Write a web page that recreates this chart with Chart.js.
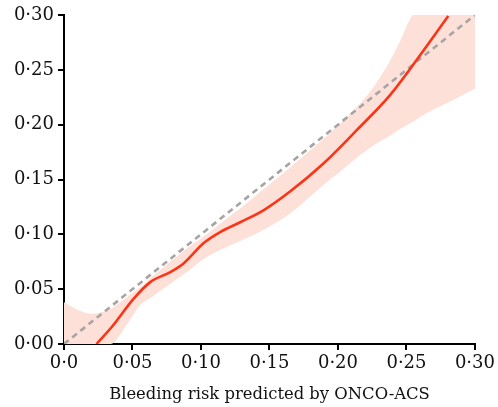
<!DOCTYPE html>
<html>
<head>
<meta charset="utf-8">
<title>Calibration – ONCO-ACS bleeding risk</title>
<script src="https://cdn.jsdelivr.net/npm/chart.js@4.4.0/dist/chart.umd.min.js"></script>
<style>
  html, body { margin: 0; padding: 0; background: #fff; }
  #wrap { width: 498px; height: 407px; }
</style>
</head>
<body>
<div id="wrap"><canvas id="calib" width="498" height="407"></canvas></div>
<script>
// Smoothed observed vs predicted bleeding risk
const curveX = [0.0237, 0.035, 0.0509, 0.063, 0.0776, 0.0873, 0.102, 0.114, 0.1286, 0.1456, 0.165, 0.1894, 0.2137, 0.238, 0.2574, 0.2805];
const curveY = [0.0, 0.0157, 0.0413, 0.0564, 0.0656, 0.0735, 0.092, 0.102, 0.111, 0.1219, 0.139, 0.1646, 0.195, 0.227, 0.2589, 0.299];

// 95% confidence band
const bandX = [0, 0.01, 0.019, 0.027, 0.034, 0.046, 0.056, 0.063, 0.0776, 0.0898, 0.104, 0.1214, 0.1286, 0.1456, 0.165, 0.1894, 0.2015, 0.216, 0.227, 0.238, 0.2453, 0.2545, 0.262, 0.2866, 0.30];
const bandUpper = [0.038, 0.031, 0.0276, 0.029, 0.032, 0.0427, 0.0519, 0.060, 0.075, 0.087, 0.100, 0.117, 0.1235, 0.141, 0.161, 0.187, 0.201, 0.219, 0.236, 0.258, 0.276, 0.30, 0.30, 0.30, 0.30];
const bandLower = [0, 0, 0, 0, 0, 0.018, 0.036, 0.042, 0.055, 0.0656, 0.079, 0.090, 0.094, 0.104, 0.119, 0.145, 0.157, 0.172, 0.182, 0.190, 0.196, 0.2025, 0.2087, 0.224, 0.233];

// perfect calibration reference
const idealX = [0, 0.30];
const idealY = [0, 0.30];

const axisTicks = [0, 0.05, 0.10, 0.15, 0.20, 0.25, 0.30];

const toPoints = (xs, ys) => xs.map((x, i) => ({ x: x, y: ys[i] }));

// decimal point drawn as a middle dot
function fmtY(v) {
    return v.toFixed(2).replace('.', '·');
}
function fmtX(v) {
    if (Math.abs(v) < 1e-9) return '0·0';
    return v.toFixed(2).replace('.', '·');
}

Chart.defaults.font.family = "'DejaVu Serif', serif";
Chart.defaults.font.size = 18;
Chart.defaults.color = '#111';

const ctx = document.getElementById('calib').getContext('2d');
new Chart(ctx, {
    type: 'line',
    data: {
        datasets: [{
            label: 'Observed',
            data: toPoints(curveX, curveY),
            borderColor: '#fb3417',
            borderWidth: 2.6,
            pointRadius: 0,
            cubicInterpolationMode: 'monotone',
            fill: false,
            order: 1
        }, {
            label: 'Ideal',
            data: toPoints(idealX, idealY),
            borderColor: '#a8a4a4',
            borderWidth: 2.6,
            borderDash: [6, 4.5],
            pointRadius: 0,
            fill: false,
            order: 2
        }, {
            label: 'Upper',
            data: toPoints(bandX, bandUpper),
            borderWidth: 0,
            borderColor: 'rgba(0,0,0,0)',
            backgroundColor: '#fde0d8',
            pointRadius: 0,
            tension: 0.25,
            fill: '+1',
            order: 3
        }, {
            label: 'Lower',
            data: toPoints(bandX, bandLower),
            borderWidth: 0,
            borderColor: 'rgba(0,0,0,0)',
            pointRadius: 0,
            cubicInterpolationMode: 'monotone',
            fill: false,
            order: 4
        }]
    },
    options: {
        responsive: false,
        animation: false,
        layout: { padding: { top: 15, right: 23, left: 0, bottom: 0 } },
        plugins: {
            legend: { display: false },
            tooltip: { enabled: false }
        },
        scales: {
            x: {
                type: 'linear',
                min: 0,
                max: 0.30,
                afterBuildTicks: (scale) => { scale.ticks = axisTicks.map(v => ({ value: v })); },
                afterFit: (scale) => { scale.height = 63; },
                ticks: { callback: fmtX, padding: 3, maxRotation: 0, color: '#111' },
                grid: { drawOnChartArea: false, color: '#000', lineWidth: 2, tickLength: 6 },
                border: { display: true, color: '#000', width: 2 },
                title: {
                    display: true,
                    text: 'Bleeding risk predicted by ONCO-ACS',
                    color: '#111',
                    font: { size: 16.4 },
                    padding: { top: 2, bottom: 2 }
                }
            },
            y: {
                type: 'linear',
                min: 0,
                max: 0.30,
                afterBuildTicks: (scale) => { scale.ticks = axisTicks.map(v => ({ value: v })); },
                afterFit: (scale) => { scale.width = 64; },
                ticks: { callback: fmtY, padding: 4, color: '#111' },
                grid: { drawOnChartArea: false, color: '#000', lineWidth: 2, tickLength: 6 },
                border: { display: true, color: '#000', width: 2 }
            }
        }
    }
});
</script>
</body>
</html>
